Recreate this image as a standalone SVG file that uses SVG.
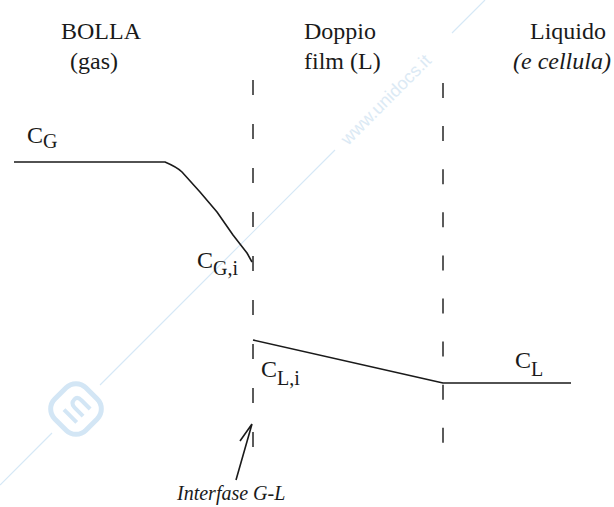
<svg xmlns="http://www.w3.org/2000/svg" width="614" height="507" viewBox="0 0 614 507">
<style>
.t{font-family:'Liberation Serif','Times New Roman',Tinos,'DejaVu Serif',serif;font-size:24px;fill:#1a1a1a}
.i{font-style:italic}
.s{font-size:20px}
.dash{stroke:#333;stroke-width:1.6;stroke-dasharray:15 29;fill:none}
.ln{stroke:#1a1a1a;stroke-width:1.6;fill:none;stroke-linejoin:round}
.wm{stroke:#d6e8f6;stroke-width:1.2;fill:none}
</style>
<rect width="614" height="507" fill="#fff"/>
<g id="watermark">
<path class="wm" d="M0 485 L52 433 M100 385 L335 150 M452 33 L485 0"/>
<text x="0" y="0" transform="translate(348,146) rotate(-45)" style="font-family:'Liberation Sans',Arial,sans-serif;font-size:18px;fill:#dceaf5">www.unidocs.it</text>
<g transform="translate(76,409) rotate(-45)" fill="none" stroke="#d3e6f5" stroke-width="5">
<rect x="-22" y="-22" width="44" height="44" rx="14"/>
<path d="M-9 -8 L-9 10 M0 10 L0 -2 Q0 -8 6 -8 Q10 -8 10 -2 L10 10" stroke-width="4"/>
</g>
</g>
<g id="headers">
<text class="t" x="61" y="39">BOLLA</text>
<text class="t" x="70" y="69">(gas)</text>
<text class="t" x="304" y="39">Doppio</text>
<text class="t" x="304" y="69">film (L)</text>
<text class="t" x="530" y="39">Liquido</text>
<text class="t i" x="513" y="69">(e cellula)</text>
</g>
<g id="interfaces">
<line id="interface-GL" class="dash" x1="253" y1="80" x2="253" y2="452"/>
<line id="interface-LL" class="dash" x1="443" y1="83" x2="443" y2="445" style="stroke-dasharray:15 28.1"/>
</g>
<g id="connectors">
<path id="gas-profile" class="ln" d="M14 162 L165 162 C172 165 178 168 182 172 L200 192 L217 212 L233 235 L247 253 L252 262"/>
<path id="liquid-profile" class="ln" d="M253 340 L443 383 L571 383"/>
<path id="arrow" class="ln" d="M236 480 L252 424 M240 441 L252 424"/>
</g>
<g id="label-CG"><text class="t" x="27" y="143">C<tspan class="s" dy="5">G</tspan></text></g>
<g id="label-CGi"><text class="t" x="197" y="268">C<tspan class="s" dy="7">G,i</tspan></text></g>
<g id="label-CLi"><text class="t" x="261" y="377">C<tspan class="s" dy="8">L,i</tspan></text></g>
<g id="label-CL"><text class="t" x="515" y="368">C<tspan class="s" dy="8">L</tspan></text></g>
<g id="label-interface"><text class="t i" x="177" y="500" style="font-size:20px">Interfase G-L</text></g>
</svg>
